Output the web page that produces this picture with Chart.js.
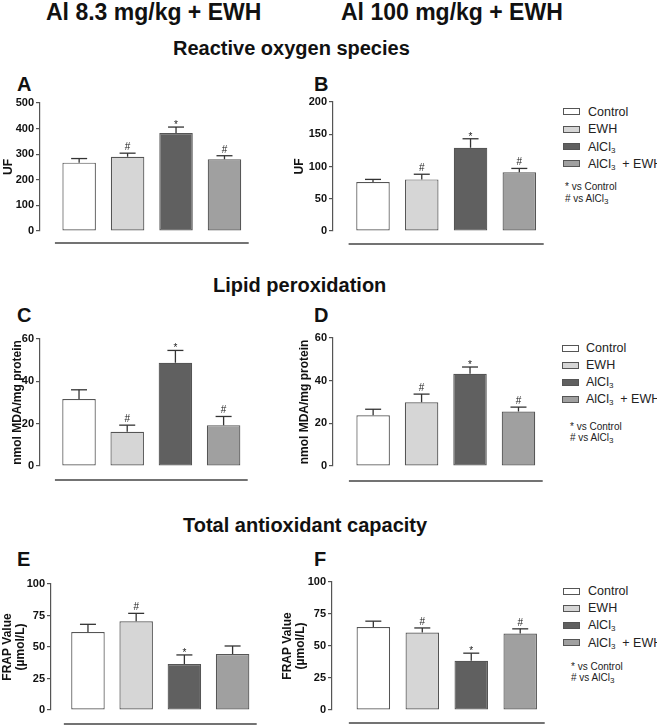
<!DOCTYPE html>
<html><head><meta charset="utf-8">
<script src="https://cdn.jsdelivr.net/npm/chart.js@4.4.1/dist/chart.umd.min.js"></script>
<style>
html,body{margin:0;padding:0;background:#fff;}
body{width:657px;height:725px;position:relative;overflow:hidden;font-family:"Liberation Sans",Arial,sans-serif;color:#111;}
.t{position:absolute;white-space:nowrap;font-weight:bold;line-height:1;}
canvas{position:absolute;}
.lg{position:absolute;font-size:12.5px;line-height:14px;height:14px;white-space:nowrap;color:#222;}
.note{position:absolute;font-size:10px;line-height:12px;height:12px;white-space:nowrap;color:#222;}
.box{position:absolute;width:15px;height:5px;border:1px solid #555;}
sub{font-size:8px;vertical-align:-2px;line-height:0;}
</style></head><body>
<div class="t" style="font-size:23px;left:46px;top:0.5px">Al 8.3 mg/kg + EWH</div>
<div class="t" style="font-size:23px;left:341px;top:0.5px">Al 100 mg/kg + EWH</div>
<div class="t" style="font-size:20px;left:173px;top:38.1px">Reactive oxygen species</div>
<div class="t" style="font-size:20px;left:213px;top:274.8px">Lipid peroxidation</div>
<div class="t" style="font-size:20px;left:183px;top:514.8px">Total antioxidant capacity</div>
<div class="t" style="font-size:20px;left:17px;top:73.8px">A</div>
<div class="t" style="font-size:20px;left:314px;top:73.8px">B</div>
<div class="t" style="font-size:20px;left:17px;top:304.8px">C</div>
<div class="t" style="font-size:20px;left:314px;top:304.8px">D</div>
<div class="t" style="font-size:20px;left:17px;top:549.1px">E</div>
<div class="t" style="font-size:20px;left:314px;top:549.1px">F</div>
<script>
// ---- data ----
const categories = ['Control', 'EWH', 'AlCl₃', 'AlCl₃ + EWH'];
const barColors = ['#ffffff', '#d6d6d6', '#606060', '#a0a0a0'];

const ticksRosLow = [0, 100, 200, 300, 400, 500];
const ticksRosHigh = [0, 50, 100, 150, 200];
const ticksLpo = [0, 20, 40, 60];
const ticksFrap = [0, 25, 50, 75, 100];

const rosLowMean = [267, 290, 383, 280];
const rosLowSem = [16, 14, 23, 14];
const rosLowSig = ['', '#', '*', '#'];

const rosHighMean = [76, 80, 129, 91];
const rosHighSem = [4, 8, 14, 6];
const rosHighSig = ['', '#', '*', '#'];

const lpoLowMean = [31.6, 16.2, 48.8, 19.3];
const lpoLowSem = [4.4, 3.1, 5.8, 4.1];
const lpoLowSig = ['', '#', '*', '#'];

const lpoHighMean = [23.8, 29.9, 43.2, 25.5];
const lpoHighSem = [2.8, 3.8, 3.2, 2.1];
const lpoHighSig = ['', '#', '*', '#'];

const frapLowMean = [61.9, 70.4, 36.5, 44.4];
const frapLowSem = [6.1, 6.3, 7.2, 6.4];
const frapLowSig = ['', '#', '*', ''];

const frapHighMean = [64.9, 60.5, 38.4, 59.8];
const frapHighSem = [4.5, 3.6, 6.0, 3.6];
const frapHighSig = ['', '#', '*', '#'];

const notes = ['* vs Control', '# vs AlCl₃'];

// ---- layout (geometry only) ----
const panels = [
  {mean: rosLowMean, sem: rosLowSem, sig: rosLowSig, ticks: ticksRosLow, title: 'UF',
   L: 0, axisX: 40, yTop: 103, yZero: 231, c0: 80, sp: 49.5, gap: 12, titleC: 9},
  {mean: rosHighMean, sem: rosHighSem, sig: rosHighSig, ticks: ticksRosHigh, title: 'UF',
   L: 270, axisX: 333, yTop: 102, yZero: 231, c0: 374, sp: 50, gap: 13, titleC: 300,
   legend: {boxX: 563, textX: 588, row0: 111.7, step: 17.4, noteX: 565, note0: 187, noteStep: 12.3}},
  {mean: lpoLowMean, sem: lpoLowSem, sig: lpoLowSig, ticks: ticksLpo, title: 'nmol MDA/mg protein',
   L: 0, axisX: 40, yTop: 339, yZero: 466, c0: 80, sp: 49.4, gap: 14, titleC: 18},
  {mean: lpoHighMean, sem: lpoHighSem, sig: lpoHighSig, ticks: ticksLpo, title: 'nmol MDA/mg protein',
   L: 270, axisX: 333, yTop: 338, yZero: 466, c0: 374, sp: 49.5, gap: 15, titleC: 305,
   legend: {boxX: 562, textX: 586, row0: 348.3, step: 17, noteX: 570, note0: 426.7, noteStep: 11.6}},
  {mean: frapLowMean, sem: frapLowSem, sig: frapLowSig, ticks: ticksFrap, title: ['FRAP Value', '(µmol/L)'],
   L: 0, axisX: 51, yTop: 584, yZero: 710, c0: 88.8, sp: 49.3, gap: 14, titleC: 8},
  {mean: frapHighMean, sem: frapHighSem, sig: frapHighSig, ticks: ticksFrap, title: ['FRAP Value', '(µmol/L)'],
   L: 270, axisX: 332, yTop: 582, yZero: 710, c0: 374.2, sp: 50, gap: 13, titleC: 288,
   legend: {boxX: 563, textX: 588, row0: 591, step: 17.2, noteX: 571, note0: 666.7, noteStep: 11.6}}
];

const FONT = '"Liberation Sans", Arial, sans-serif';

const panelDecor = {
  id: 'panelDecor',
  afterDatasetsDraw(chart, args, opts) {
    const {ctx, chartArea} = chart;
    const xs = chart.scales.x, ys = chart.scales.y;
    ctx.save();
    ctx.strokeStyle = '#444';
    ctx.lineWidth = 1.3;
    ctx.beginPath();
    const ly = chartArea.bottom + opts.gap;
    ctx.moveTo(xs.getPixelForValue(-0.5), ly);
    ctx.lineTo(xs.getPixelForValue(opts.count - 0.5), ly);
    ctx.stroke();
    ctx.fillStyle = '#222';
    ctx.textAlign = 'center';
    ctx.textBaseline = 'alphabetic';
    ctx.font = '10px ' + FONT;
    for (let i = 0; i < opts.count; i++) {
      const m = opts.marks[i];
      if (!m) continue;
      const top = ys.getPixelForValue(opts.tops[i]);
      ctx.fillText(m, xs.getPixelForValue(i), m === '#' ? top - 3 : top + 1);
    }
    ctx.restore();
  }
};

function htmlLabel(s) {
  return s.replace('₃', '<sub>3</sub>').replace(' + ', ' &nbsp;+ ');
}

panels.forEach(p => {
  const padTop = 10, padBottom = p.gap + 4;
  const right = p.c0 + 3.5 * p.sp - p.L;
  const W = Math.ceil(right + 4);
  const T = p.yTop - padTop;
  const H = p.yZero - T + padBottom;
  const cv = document.createElement('canvas');
  cv.width = W; cv.height = H;
  cv.style.left = p.L + 'px'; cv.style.top = T + 'px';
  cv.style.width = W + 'px'; cv.style.height = H + 'px';
  document.body.appendChild(cv);

  const tops = p.mean.map((m, i) => m + p.sem[i]);
  const titleFont = {family: FONT, size: 12, weight: 'bold', lineHeight: 1.05};
  const lh = 12 * 1.05;

  new Chart(cv, {
    type: 'bar',
    data: {
      labels: categories,
      datasets: [
        {type: 'scatter', label: 'SEM cap', data: tops.map((t, i) => ({x: i, y: t})),
         pointStyle: 'line', pointRadius: 8, pointHoverRadius: 8,
         pointBorderColor: '#333', pointBorderWidth: 1.3, pointBackgroundColor: '#333',
         clip: false, order: 0},
        {type: 'bar', label: 'SEM', data: p.mean.map((m, i) => ({x: i, y: [m, tops[i]]})),
         backgroundColor: '#333', borderWidth: 0, maxBarThickness: 1.3, grouped: false, order: 1},
        {type: 'bar', label: 'Mean', data: p.mean.map((m, i) => ({x: i, y: m})),
         backgroundColor: barColors, borderColor: '#555', borderWidth: 1.2, borderSkipped: false,
         maxBarThickness: 33.5, grouped: false, order: 2}
      ]
    },
    options: {
      responsive: false,
      animation: false,
      events: [],
      layout: {padding: {left: 0, top: padTop, right: W - right, bottom: padBottom}},
      plugins: {
        legend: {display: false},
        tooltip: {enabled: false},
        panelDecor: {gap: p.gap, count: categories.length, marks: p.sig, tops: tops}
      },
      scales: {
        x: {
          type: 'linear', display: false, offset: false, grid: {offset: false},
          min: (p.axisX - p.c0) / p.sp, max: categories.length - 0.5,
          afterBuildTicks: s => { s.ticks = categories.map((c, i) => ({value: i})); }
        },
        y: {
          type: 'linear', position: 'left',
          min: p.ticks[0], max: p.ticks[p.ticks.length - 1],
          afterBuildTicks: s => { s.ticks = p.ticks.map(v => ({value: v})); },
          afterFit: s => { s.width = p.axisX - p.L; },
          ticks: {font: {family: FONT, size: 11, weight: 'bold'}, color: '#111', padding: 2},
          grid: {drawOnChartArea: false, drawTicks: true, tickLength: 4, color: '#555', lineWidth: 1.2},
          border: {display: true, color: '#555', width: 1.2},
          title: {display: true, text: p.title, font: titleFont, color: '#111',
                  padding: {top: p.titleC - p.L - lh / 2, bottom: 0}}
        }
      }
    },
    plugins: [panelDecor]
  });

  if (p.legend) {
    const lg = p.legend;
    categories.forEach((c, i) => {
      const cy = lg.row0 + i * lg.step;
      const b = document.createElement('div');
      b.className = 'box';
      b.style.left = lg.boxX + 'px';
      b.style.top = (cy - 3.5) + 'px';
      b.style.background = barColors[i];
      document.body.appendChild(b);
      const t = document.createElement('div');
      t.className = 'lg';
      t.style.left = lg.textX + 'px';
      t.style.top = (cy - 7) + 'px';
      t.innerHTML = htmlLabel(c);
      document.body.appendChild(t);
    });
    notes.forEach((n, i) => {
      const t = document.createElement('div');
      t.className = 'note';
      t.style.left = lg.noteX + 'px';
      t.style.top = (lg.note0 + i * lg.noteStep - 6) + 'px';
      t.innerHTML = htmlLabel(n);
      document.body.appendChild(t);
    });
  }
});
</script>
</body></html>
